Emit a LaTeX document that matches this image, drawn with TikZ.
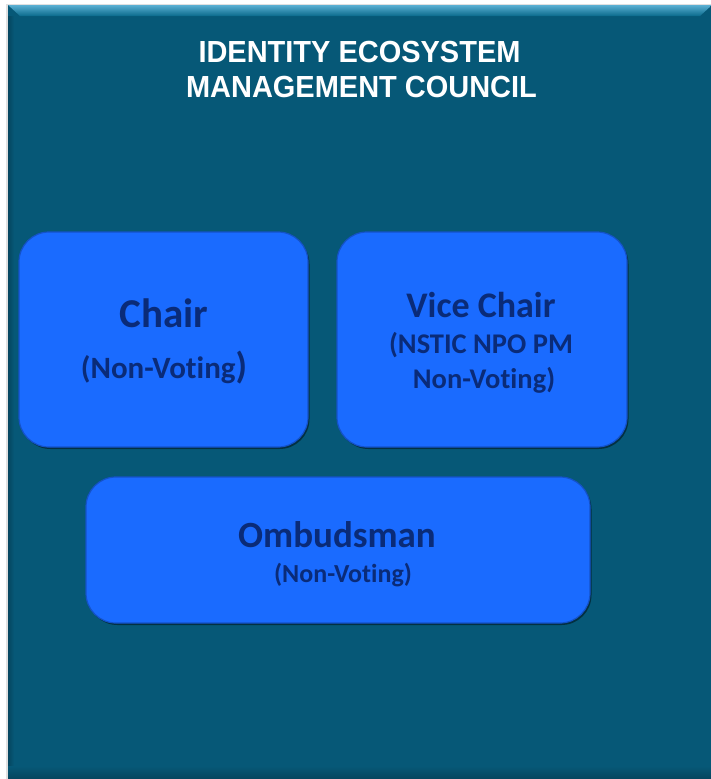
\documentclass[tikz,border=0pt]{standalone}
\usepackage{fontspec}
\setmainfont{Carlito}[Ligatures={NoCommon}]
\newfontfamily\titlefont[FakeStretch=0.95]{Liberation Sans}
\usetikzlibrary{shadows}
\definecolor{bgteal}{HTML}{065877}
\definecolor{bevel}{HTML}{5AAFD2}
\definecolor{bevelb}{HTML}{0A6A8C}
\definecolor{boxblue}{HTML}{1A6BFF}
\definecolor{boxedge}{HTML}{1452C8}
\definecolor{boxtext}{HTML}{0A2B78}
\tikzset{
  x=1pt, y=-1pt,
  rolebox/.style={draw=boxedge, line width=1.2pt, fill=boxblue, rounded corners=30pt, inner sep=0pt,
    drop shadow={shadow xshift=1.5pt, shadow yshift=-2pt, opacity=0.45, fill=black}},
  rolehead/.style={text=boxtext, anchor=base, inner sep=0pt},
  titletext/.style={text=white, anchor=base, inner sep=0pt, font=\titlefont\bfseries\fontsize{30.5}{30.5}\selectfont}
}
\begin{document}
\begin{tikzpicture}
\useasboundingbox (0,0) rectangle (710,779);
\fill[white] (0,0) rectangle (710,779);
% outer panel with slight shadow
\fill[black!12] (6,4) rectangle (712,781);
\fill[bgteal] (8,5) rectangle (712,781);
% top bevel
\shade[top color=bevel, bottom color=bevelb] (8,5) -- (712,5) -- (700,16) -- (20,16) -- cycle;
% left edge
\shade[left color=bgteal!80!black, right color=bgteal] (8,16) rectangle (14,781);
% bottom band
\shade[top color=bgteal, bottom color=bgteal!75!black] (8,766) rectangle (712,781);

% title
\node[titletext] (t1) at (359.5,62) {IDENTITY ECOSYSTEM};
\node[titletext] (t2) at (361.5,97) {MANAGEMENT COUNCIL};

% boxes
\node[rolebox, minimum width=289pt, minimum height=215pt] (chair) at (163.5,339.5) {};
\node[rolebox, minimum width=290pt, minimum height=215pt] (vice) at (482,339.5) {};
\node[rolebox, minimum width=504pt, minimum height=146pt] (omb) at (338,550) {};

% texts
\node[rolehead, font=\bfseries\fontsize{41}{41}\selectfont] (chairt) at (164,327) {Chair};
\node[rolehead, font=\bfseries\fontsize{31}{31}\selectfont] (chairs) at (164,378) {(Non-Voting{\fontsize{37}{37}\selectfont)}};
\node[rolehead, font=\bfseries\fontsize{36}{36}\selectfont] (vicet) at (481,317) {Vice Chair};
\node[rolehead, font=\bfseries\fontsize{28.5}{28.5}\selectfont] (vices1) at (481,353) {(NSTIC NPO PM};
\node[rolehead, font=\bfseries\fontsize{28.5}{28.5}\selectfont] (vices2) at (484,388) {Non-Voting)};
\node[rolehead, font=\bfseries\fontsize{37}{37}\selectfont] (ombt) at (337,547) {Ombudsman};
\node[rolehead, font=\bfseries\fontsize{26}{26}\selectfont] (ombs) at (343,582) {(Non-Voting)};
\end{tikzpicture}
\end{document}
